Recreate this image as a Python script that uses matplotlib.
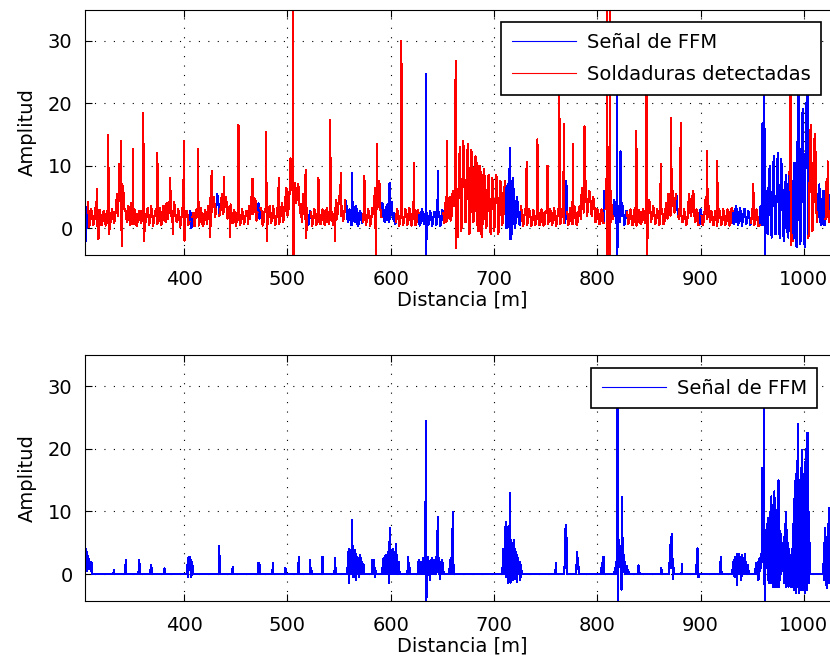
from __future__ import annotations

import matplotlib

matplotlib.use("Agg")

import matplotlib.pyplot as plt
import numpy as np

# Raw FFM signal, upper panel: samples every 2 m from 303 m (odd metres)
top_start = 303.0
top_step = 2.0
top_base = [
    5.2, -2.0, 4.1, 0.8, 2.4,    1.0, 2.6, 0.7, 2.2, 1.1,
    2.3, 0.9, 2.0, 1.2, 2.5,     1.4, 5.5, 7.8, 4.2, 6.5,
    3.0, 1.0, 2.4, 4.1, 0.6,     2.2, 1.0, 2.8, 1.3, 3.0,
    1.2, 3.2, 1.0, 2.6, 1.5,     3.0, 0.8, 2.7, 1.2, 2.0,
    4.0, 2.5, 5.2, 1.8, 3.5,     1.0, 2.6, 0.7, 2.3, 1.3,
    2.6, 1.0, 0.0, 2.5, 1.6,     2.8, 1.0, 2.2, 0.8, 2.4,
    3.5, 4.8, 2.6, 5.0, 3.0,     4.5, 2.5, 5.5, 3.2, 4.2,
    2.0, 3.8, 0.8, 2.5, 1.2,     2.4, 1.0, 2.2, 1.3, 2.6,
    3.5, 5.0, 2.2, 4.5, 2.5,     1.5, 2.8, 1.0, 3.0, 2.0,
    3.5, 1.2, 2.8, 0.9, 3.0,     1.5, 4.0, 2.4, 6.5, 3.0,
    11.2, 6.0, 7.2, 4.5, 6.5,    3.0, 5.5, 1.5, 3.2, 1.0,
    2.5, 1.2, 2.6, 0.8, 2.2,     1.3, 2.7, 1.0, 2.5, 1.5,
    2.4, 1.0, 4.5, 3.0, 5.0,     3.5, 2.0, 4.0, 1.0, 2.5,
    3.8, 1.0, 3.0, 0.6, 2.4,     1.0, 2.5, 1.2, 2.6, 1.0,
    2.2, 6.5, 3.0, 7.5, 1.8,     3.0, 1.2, 3.8, 1.5, 4.2,
    2.5, 1.0, 2.6, 0.8, 2.3,     1.2, 2.8, 0.9, 2.5, 1.3,
    2.6, 1.0, 2.4, 0.9, 2.5,     1.2, 2.4, 0.8, 2.3, 1.1,
    2.5, 0.9, 2.3, 1.0, 2.4,     4.0, 1.5, 5.0, 2.0, 3.5,
    9.0, -1.5, 13.0, 0.5, 12.0,  1.0, 13.5, 0.0, 11.0, 2.0,
    10.5, -0.5, 9.0, 1.0, 8.0,   0.5, 8.5, -1.0, 7.5, 1.0,
    8.0, 0.0, 7.0, 1.5, 7.5,     0.0, 9.0, -1.0, 6.0, 1.0,
    4.0, 0.5, 2.5, 1.0, 2.4,     1.0, 2.5, 0.8, 2.3, 1.2,
    2.6, 1.0, 2.4, 0.7, 2.5,     1.1, 2.8, 1.0, 2.5, 0.9,
    2.7, 1.2, 3.5, 1.0, 2.6,     1.0, 3.0, 1.5, 2.4, 1.0,
    3.5, 6.5, 2.5, 7.5, 3.0,     5.5, 2.0, 4.0, 1.0, 2.5,
    1.0, 2.5, 6.0, 8.0, 13.0,    6.0, 1.5, 4.0, 1.0, 3.5,
    2.0, 3.0, 1.0, 2.5, 1.2,     2.2, 0.8, 2.5, 1.0, 2.6,
    1.0, 2.4, 3.5, 1.5, 4.0,     1.8, 3.0, 1.0, 2.5, 1.2,
    2.5, 1.0, 4.0, 5.5, 2.0,     6.0, 2.5, 5.0, 1.5, 3.0,
    1.0, 2.2, 0.8, 5.5, 2.0,     6.0, 1.0, 2.4, 0.6, 2.0,
    1.0, 5.0, 2.0, 1.0, 2.5,     0.6, 2.0, 1.0, 2.4, 0.8,
    2.2, 1.0, 2.6, 0.8, 2.8,     1.0, 3.0, 0.8, 2.6, 1.2,
    3.0, 1.0, 2.4, 0.9, 2.6,     1.0, 2.0, 0.5, 2.8, 1.0,
    6.0, -1.0, 10.0, -1.5, 11.5, -1.0, 12.0, -1.5, 9.0, -2.0,
    8.5, -1.5, 6.0, -2.0, 10.5,  -3.0, 21.0, -2.0, 19.0, -3.0,
    17.0, -1.0, 16.5, 0.0, 15.0, 1.0, 7.0, 0.5, 6.0, 1.5,
    8.0, 2.0, 5.5, 1.0, 4.0,     2.0,
]
# Samples in between, at the even metres (304, 306, ...)
top_between = [
    1.0, 3.0, 0.2, 3.0, 0.5,     3.2, 0.3, 2.9, 0.5, 2.7,
    0.4, 3.1, 0.6, 3.0, 0.8,     3.5, 2.0, 4.5, 7.0, 3.0,
    1.5, 3.6, 0.5, 2.0, 3.0,     0.3, 2.5, 0.8, 3.4, 0.6,
    3.0, 0.5, 3.5, 0.4, 2.8,     0.6, 3.3, 0.5, 3.6, 1.0,
    1.5, 4.5, 1.0, 4.2, 1.2,     3.0, 0.2, 3.2, 0.5, 2.8,
    0.5, 2.8, 1.8, 0.3, 3.0,     0.4, 3.2, 0.3, 2.9, 0.6,
    1.5, 2.5, 4.5, 1.8, 5.5,     2.0, 4.8, 2.2, 5.0, 1.5,
    3.5, 1.0, 2.9, 0.4, 3.0,     0.5, 3.0, 0.6, 2.8, 0.7,
    1.5, 2.8, 4.8, 1.2, 4.0,     3.2, 0.4, 3.0, 0.6, 3.4,
    0.8, 3.5, 0.5, 3.2, 0.7,     3.2, 1.0, 4.8, 2.0, 5.5,
    7.5, 3.5, 4.0, 7.0, 2.5,     1.0, 3.0, 4.0, 0.5, 2.8,
    0.4, 3.0, 0.5, 3.2, 0.6,     3.0, 0.5, 3.2, 0.6, 2.9,
    0.5, 3.2, 1.5, 5.2, 2.0,     1.2, 4.5, 1.5, 3.0, 0.5,
    1.5, 3.5, 0.3, 2.8, 0.8,     2.9, 0.5, 3.0, 0.4, 3.2,
    4.5, 2.0, 5.5, 3.0, 4.0,     1.0, 3.5, 1.0, 3.0, 1.5,
    0.6, 3.0, 0.4, 3.1, 0.5,     3.0, 0.5, 3.2, 0.4, 2.9,
    0.5, 2.9, 0.4, 3.0, 0.6,     2.8, 0.5, 2.7, 0.3, 2.6,
    0.5, 2.8, 0.4, 2.9, 0.8,     1.0, 3.5, 1.2, 6.0, 5.0,
    2.0, 10.0, -0.5, 14.0, 1.0,  12.0, -1.0, 12.5, 1.0, 11.5,
    0.5, 10.0, -1.5, 9.5, 0.0,   8.0, 0.0, 8.0, -0.5, 8.5,
    -1.0, 7.5, 0.5, 6.5, 0.0,    7.0, 0.5, 8.0, 0.0, 5.0,
    1.0, 3.5, 0.3, 3.0, 0.5,     3.0, 0.4, 2.9, 0.5, 3.1,
    0.5, 3.0, 0.4, 2.8, 0.6,     3.0, 0.5, 3.2, 0.4, 3.0,
    0.6, 3.0, 0.8, 3.5, 0.5,     3.2, 0.6, 3.5, 0.5, 3.0,
    1.5, 4.0, 5.5, 2.0, 6.0,     2.5, 5.0, 1.0, 3.0, 0.6,
    3.0, 0.8, 3.0, 10.0, 5.0,    3.0, 4.5, 0.8, 3.0, 1.0,
    4.0, 0.5, 2.8, 0.6, 3.0,     0.5, 3.0, 0.4, 2.9, 0.6,
    3.0, 0.8, 2.0, 4.5, 1.0,     3.5, 0.6, 3.0, 0.5, 3.2,
    0.6, 3.0, 1.5, 3.0, 4.5,     3.0, 5.5, 2.0, 4.0, 1.0,
    3.0, 0.5, 3.5, 2.5, 5.0,     2.0, 3.0, 0.5, 3.0, 0.5,
    3.0, 1.5, 3.5, 2.8, 0.5,     2.8, 0.4, 3.0, 0.5, 3.0,
    0.5, 3.0, 0.4, 3.2, 0.6,     3.5, 0.5, 3.2, 0.4, 3.0,
    0.6, 2.8, 0.5, 3.0, 0.5,     3.0, 0.3, 3.5, 0.5, 4.0,
    0.0, 8.0, -0.5, 9.0, -1.0,   10.0, -0.5, 11.0, -1.0, 7.0,
    -0.5, 9.0, -1.0, 7.5, -2.0,  15.0, -2.5, 17.0, -2.0, 20.0,
    -1.5, 15.0, -0.5, 14.0, 3.0, 5.0, 1.0, 4.5, 0.5, 7.5,
    1.0, 6.0, 0.5, 3.0, 1.0,     3.0,
]

# Narrow peaks of the upper raw signal (position in m, amplitude)
peak_x = [
    315.4, 317.0, 326.5, 327.3, 337.0, 338.8, 339.6, 350.3, 360.4, 361.0,
    374.0, 386.0, 389.0, 399.9, 400.3, 413.5, 425.0, 426.6, 438.9, 444.0,
    452.6, 466.2, 479.4, 480.0, 491.6, 505.6, 505.8, 517.6, 518.2, 530.0,
    541.4, 546.0, 551.8, 562.5, 574.5, 585.6, 586.9, 598.9, 610.3, 622.6,
    634.0, 634.3, 645.8, 654.2, 662.9, 663.2, 715.4, 716.0, 731.6, 742.0,
    751.8, 763.2, 767.8, 770.0, 776.2, 787.6, 809.7, 809.9, 812.1, 812.3,
    819.0, 819.3, 822.5, 837.9, 847.7, 848.0, 861.4, 871.5, 880.9, 906.2,
    916.0, 951.0, 960.0, 961.7, 962.0, 987.0, 987.3, 994.5, 1003.6, 1023.0,
]
peak_y = [
    6.2, -1.8, 14.9, -1.0, 10.2, 13.9, -2.8, 12.6, 18.4, -2.0,
    12.0, 8.0, -1.0, 14.0, -2.0, 12.6, -1.5, 9.2, 8.2, -1.5,
    16.5, 7.9, 15.4, -2.0, 8.1, 45.0, -8.0, 9.3, -1.6, 8.0,
    17.3, -2.0, 8.8, 8.8, 8.4, -6.0, 13.5, 7.3, 30.0, 10.4,
    24.6, -5.0, 9.2, 14.0, 26.8, -3.2, 12.8, -1.8, 10.6, 14.2,
    10.0, 22.0, 16.6, 7.5, 13.5, 16.3, 45.0, -8.0, 45.0, -8.0,
    30.0, -6.0, 12.3, 15.6, 26.0, -6.0, 10.3, 17.6, 16.8, 12.3,
    10.7, 7.0, 16.8, 28.0, -6.0, 26.0, -2.7, 25.0, 24.0, 10.7,
]

# Stretches flagged as welds (drawn in red on top of the raw signal)
weld_start = [307, 408, 434, 474, 523, 573, 605, 651, 726, 771,
              808, 829, 878, 901, 949, 986, 1004, 1021]
weld_end = [405, 431, 471, 519, 556, 591, 627, 711, 768.5, 806,
            815, 876, 898, 931, 957, 989, 1013, 1025]

# Lower panel: FFM signal with welds removed, zero elsewhere
ffm_x = [
    303, 303.5, 304, 304.5, 305, 305.5, 306, 306.5, 307, 307.5, 308, 308.5, 309, 309.5, 310, 310.5,
    332, 343, 343.5, 356, 356.5, 357, 367.5, 368, 368.5, 381,
    403.5, 404, 404.5, 405, 405.5, 406, 406.5, 407, 407.5, 408,
    434, 446.5, 447, 472, 472.5, 473, 485.5, 486, 498, 510.5, 511, 522, 523, 534, 546, 546.5,
    558, 559, 559.5, 560, 561, 562, 562.5, 563, 563.5, 564, 564.5, 565, 565.5, 566, 566.5,
    567, 567.5, 568, 569, 569.5, 570, 570.5, 571, 572, 572.5, 573, 574,
    582, 583, 584, 584.5, 585,
    592, 593, 594, 595, 596, 597, 598, 598.5, 599, 599.5, 600, 601, 602, 603, 604, 605,
    605.5, 606, 607, 608, 608.5,
    616.5, 617, 618,
    627, 627.5, 628, 629, 629.5, 630, 631, 631.5, 632, 633, 633.5, 634, 634.5, 635, 636,
    636.5, 637, 638, 638.5, 639, 640, 641, 642, 643, 644, 644.5, 645, 645.5, 646, 647,
    647.5, 648, 649, 650, 651,
    657, 658, 659, 660, 660.5, 661,
    708, 709, 710, 711, 711.5, 712, 712.5, 713, 713.5, 714, 714.5, 715, 715.5, 716, 716.5,
    717, 717.5, 718, 718.5, 719, 719.5, 720, 720.5, 721, 721.5, 722, 722.5, 723, 723.5, 724,
    725, 725.5, 726, 727,
    759.5, 760, 768.5, 769, 769.5, 770, 770.5, 780, 780.5, 781, 781.5, 804, 805, 806, 806.5,
    817, 818, 819.5, 820, 820.5, 821, 821.5, 822, 822.5, 823, 823.5, 824, 824.5, 825, 825.5,
    826, 827, 828, 829, 830,
    839.5, 840, 840.5, 862, 870, 870.5, 871, 871.5, 872, 872.5, 873, 873.5, 882, 896, 896.5,
    897, 897.5, 898, 919.5, 920,
    931, 932, 933, 933.5, 934, 935, 935.5, 936, 937, 937.5, 938, 939, 939.5, 940, 941,
    941.5, 942, 943, 943.5, 944, 945, 946, 946.5,
]
ffm_y = [
    5.3, 2.0, -2.1, 4.0, 1.0, 3.5, 0.5, 3.0, 1.0, 2.5, 0.8, 2.0, 1.0, 2.0, 0.5, 1.8,
    0.6, 0.5, 2.3, 0.6, 2.3, 1.0, 0.8, 1.4, 0.8, 0.9,
    2.5, -0.5, 2.8, 1.5, 2.7, 1.0, 2.2, -0.5, 2.0, 1.5,
    4.5, 0.5, 1.1, 1.8, 1.2, 1.5, 0.5, 1.8, 1.0, 0.6, 2.8, 2.3, 1.0, 2.8, 2.5, 1.0,
    1.0, 3.5, -1.4, 4.0, 2.5, 3.0, 8.7, 2.0, 4.5, -0.5, 3.5, 2.0, 3.8, -1.0, 3.2,
    1.5, 2.8, 0.5, 2.5, -0.5, 3.0, 1.0, 2.5, 0.8, 2.0, 0.5, 1.5,
    2.2, 0.8, 2.2, -0.5, 1.0,
    1.0, 2.5, 0.5, 3.0, 1.0, 3.5, 0.5, -1.4, 7.4, 2.0, 3.8, 1.0, 4.0, 1.5, 3.5, 4.8,
    0.5, 3.0, 1.0, 2.0, 0.3,
    1.0, 2.7, 1.5,
    2.3, 0.5, 1.8, 0.3, 2.0, 1.0, 2.5, 0.3, 1.8, 2.2, 0.5, 24.5, -5.0, 1.5, 2.8,
    0.5, 2.0, -0.9, 2.2, 1.0, 2.6, 0.4, 2.3, 1.0, 2.8, 0.3, 2.0, 9.2, 1.0, 2.5,
    -0.8, 2.0, 1.0, 2.2, 0.5,
    1.0, 2.6, 1.5, 9.9, 2.0, 1.0,
    1.0, 4.0, 2.0, 7.5, -0.5, 8.4, 1.0, 6.0, -1.4, 7.0, 1.0, 6.5, 13.0, -1.4, 5.5,
    2.0, 5.0, -1.0, 4.5, 1.5, 5.5, -0.8, 4.0, 1.0, 3.5, -1.2, 3.0, 0.5, 2.5, 1.0,
    2.0, -1.0, 1.5, 0.5,
    0.5, 1.8, 2.0, 7.2, 1.0, 7.9, 0.5, 2.0, 3.6, 1.0, 2.5, 1.0, 1.8, 2.8, 0.5,
    1.0, 2.0, 30.0, -5.0, 3.0, 5.5, 2.0, 4.5, 1.0, 4.0, -2.5, 12.3, 3.5, 2.0, 3.0,
    1.0, 2.0, 0.8, 1.3, 0.5,
    0.5, 1.4, 0.8, 1.0, 2.0, 4.6, 1.0, 6.0, 1.0, 6.4, -0.8, 2.0, 1.6, 1.0, 3.6,
    4.1, 0.5, -0.5, 2.8, 0.6,
    0.8, 2.2, -0.5, 2.8, 1.0, 3.2, -1.7, 2.5, 0.5, 3.2, 1.2, 2.8, -1.0, 3.0, 0.8,
    2.5, 1.0, 3.2, 0.3, 2.0, 1.0, 1.5, 0.3,
]

# Dense bursts of the lower signal, sampled every 0.5 m
burst_a_start = 953.0
burst_a = [
    0.8, 0.0, 1.8, 0.0, 0.5, 2.0, -1.0, 1.5, 2.5, 0.5,
    2.0, 1.0, 3.0, 6.0, 17.0, 2.0, 4.0, 30.0, -5.0, 5.0,
    2.0, 7.0, 1.0, 8.0, -1.0, 9.0, -1.5, 8.5, 0.5, 10.0,
    -1.5, 12.4, -1.0, 9.0, -2.0, 11.0, -1.0, 13.2, -2.0, 9.0,
    -1.5, 10.3, -2.0, 8.0, -1.0, 15.0, -2.0, 7.0, -1.0, 6.5,
    0.0, 5.0, 1.0, 3.0, 0.5, 6.0, -1.5, 8.0, -1.0, 10.0,
    -2.0, 7.0, -1.5, 5.0, -2.0, 4.0, -1.0, 3.0, -2.0, 2.0,
    1.0, -2.0, 4.0, -1.5, 8.0, -2.5, 12.0, -2.0, 16.0, -3.0,
    18.0, -2.0, 20.0, 23.9, -3.1, 15.0, -2.0, 12.0, -2.5, 17.0,
    -1.5, 19.9, -2.5, 14.0, -2.0, 16.0, -3.0, 18.0, -2.0, 20.0,
    -2.5, 22.6, -1.0, 10.0, -1.5, 5.0, 0.5,
]
burst_b_start = 1019.0
burst_b = [
    1.0, 5.0, -1.0, 7.4, 0.5, 6.0, -2.2, 5.5, 1.0, 8.0,
    -1.5, 10.6, 0.5, 6.0, -2.0, 4.0, 0.5, 3.0, -1.0, 2.0, 0.5,
]

x_ticks = [400, 500, 600, 700, 800, 900, 1000]
y_ticks = [0, 10, 20, 30]

BLUE = "#0000ff"
RED = "#ff0000"
FONT_SIZE = 14
LINE_WIDTH = 0.8


def build_top_signal():
    """Raw samples merged with the narrow peaks, sorted by distance."""
    grid_odd = top_start + top_step * np.arange(len(top_base))
    grid_even = top_start + 1.0 + top_step * np.arange(len(top_between))
    x = np.concatenate([grid_odd, grid_even, np.asarray(peak_x, dtype=float)])
    y = np.concatenate([
        np.asarray(top_base, dtype=float),
        np.asarray(top_between, dtype=float),
        np.asarray(peak_y, dtype=float),
    ])
    order = np.argsort(x, kind="stable")
    return x[order], y[order]


def build_bottom_signal():
    """Zero baseline on a 0.5 m grid with the listed samples placed on it."""
    step = 0.5
    grid = np.arange(303.0, 1035.01, step)
    y = np.zeros_like(grid)

    def place(xs, ys):
        idx = np.round((np.asarray(xs, dtype=float) - 303.0) / step).astype(int)
        y[idx] = ys

    place(ffm_x, ffm_y)
    place(burst_a_start + step * np.arange(len(burst_a)), burst_a)
    place(burst_b_start + step * np.arange(len(burst_b)), burst_b)
    return grid, y


def style_axes(ax):
    ax.set_xlim(304, 1035)
    ax.set_ylim(-4.3, 35)
    ax.set_xticks(x_ticks)
    ax.set_yticks(y_ticks)
    ax.tick_params(direction="in", length=5, width=0.8, top=True, right=True,
                   labelsize=FONT_SIZE, colors="black")
    ax.tick_params(axis="x", pad=11)
    ax.tick_params(axis="y", pad=9)
    ax.grid(True, color="black", linestyle=(0, (1, 7.5)), linewidth=0.8)
    for spine in ax.spines.values():
        spine.set_color("black")
        spine.set_linewidth(0.8)
    ax.set_xlabel("Distancia [m]", fontsize=FONT_SIZE, labelpad=1)
    ax.set_ylabel("Amplitud", fontsize=FONT_SIZE)
    ax.yaxis.set_label_coords(-48 / 755, 0.5)


def main():
    plt.rcParams["font.family"] = ["DejaVu Sans"]

    x_top, y_top = build_top_signal()
    in_weld = np.zeros(len(x_top), dtype=bool)
    for start, end in zip(weld_start, weld_end):
        in_weld |= (x_top >= start) & (x_top <= end)
    y_weld = np.where(in_weld, y_top, np.nan)

    x_bot, y_bot = build_bottom_signal()

    fig = plt.figure(figsize=(8.3, 6.65), dpi=100)
    ax_top = fig.add_axes([85 / 830, 1 - 255 / 665, 755 / 830, 245.5 / 665])
    ax_bot = fig.add_axes([85 / 830, 1 - 601 / 665, 755 / 830, 246 / 665])

    ax_top.plot(x_top, y_top, color=BLUE, linewidth=LINE_WIDTH,
                antialiased=False, label="Señal de FFM")
    ax_top.plot(x_top, y_weld, color=RED, linewidth=LINE_WIDTH,
                antialiased=False, label="Soldaduras detectadas")
    ax_bot.plot(x_bot, y_bot, color=BLUE, linewidth=LINE_WIDTH,
                antialiased=False, label="Señal de FFM")

    for ax in (ax_top, ax_bot):
        style_axes(ax)

    legend_kw = dict(
        loc="upper left",
        bbox_transform=fig.transFigure,
        fontsize=FONT_SIZE,
        frameon=True,
        fancybox=False,
        framealpha=1.0,
        edgecolor="black",
        borderaxespad=0.0,
        borderpad=0.55,
        handlelength=3.3,
        handletextpad=0.55,
        labelspacing=0.7,
    )
    leg_top = ax_top.legend(bbox_to_anchor=(501 / 830, 1 - 22 / 665), **legend_kw)
    leg_bot = ax_bot.legend(bbox_to_anchor=(591 / 830, 1 - 368 / 665), **legend_kw)
    for leg in (leg_top, leg_bot):
        leg.get_frame().set_linewidth(1.2)

    fig.savefig("out.png", dpi=100, facecolor="white")
    plt.close(fig)


if __name__ == "__main__":
    main()
